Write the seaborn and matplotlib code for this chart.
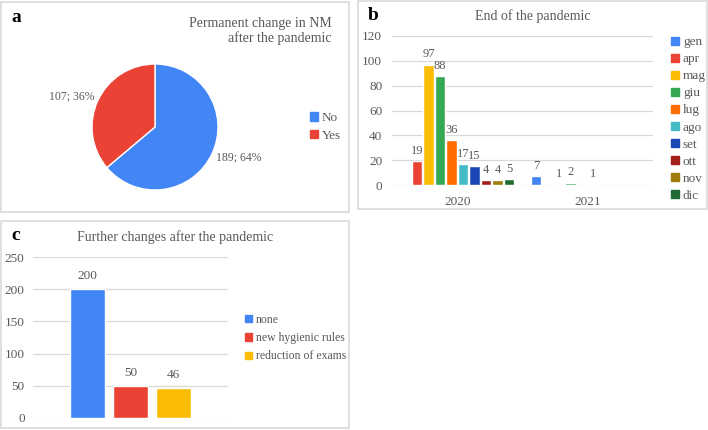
import matplotlib
matplotlib.use("Agg")
import matplotlib.pyplot as plt
import matplotlib.patches as mpatches
import numpy as np
import pandas as pd
import seaborn as sns

# panel a
pie_labels = ["No", "Yes"]
pie_values = [189, 107]
pie_colors = ["#4285F4", "#EA4335"]

# panel b
months = ["gen", "apr", "mag", "giu", "lug", "ago", "set", "ott", "nov", "dic"]
years = ["2020", "2021"]
counts_2020 = [0, 19, 97, 88, 36, 17, 15, 4, 4, 5]
counts_2021 = [7, 0, 1, 2, 0, 1, 0, 0, 0, 0]
month_colors = ["#4285F4", "#EA4335", "#FBBC04", "#34A853", "#FF6D01",
                "#46BDC6", "#1A47B5", "#A31F1A", "#A07C08", "#1E6B34"]

# panel c
change_labels = ["none", "new hygienic rules", "reduction of exams"]
change_values = [200, 50, 46]
change_colors = ["#4285F4", "#EA4335", "#FBBC04"]

TEXT = "#595959"
GRID = "#D9D9D9"
W, H = 708, 430
FS = 8.5

sns.set_theme(style="white")
plt.rcParams["font.family"] = ["Liberation Serif", "DejaVu Serif"]
plt.rcParams["text.color"] = TEXT


def frac(x, y, w, h):
    # pixel box (top-left origin) -> figure fraction
    return [x / W, 1 - (y + h) / H, w / W, h / H]


def panel_box(fig, x, y, w, h, letter):
    fig.patches.append(mpatches.Rectangle((x / W, 1 - (y + h) / H), w / W, h / H,
                                          transform=fig.transFigure, fill=False,
                                          edgecolor=GRID, linewidth=1.2))
    fig.text((x + 10) / W, 1 - (y + 15) / H, letter, fontsize=14, fontweight="bold",
             color="black", va="center", ha="left")


def style_bar_axes(ax, ymax, step, pad):
    ax.set_ylim(0, ymax)
    ax.set_yticks(np.arange(0, ymax + 1, step))
    ax.grid(axis="y", color=GRID, linewidth=0.9)
    ax.set_axisbelow(True)
    for s in ax.spines.values():
        s.set_visible(False)
    ax.tick_params(axis="both", length=0, labelsize=9.5, labelcolor=TEXT)
    ax.tick_params(axis="y", pad=pad)
    ax.set_xlabel("")
    ax.set_ylabel("")


def square_legend(ax, labels, colors, anchor, spacing, size=FS):
    handles = [mpatches.Patch(color=c, label=l) for l, c in zip(labels, colors)]
    ax.figure.legend(handles=handles, loc="center left", bbox_to_anchor=anchor,
                     frameon=False, handlelength=0.6, handleheight=0.6,
                     handletextpad=0.3, labelspacing=spacing, fontsize=size,
                     labelcolor=TEXT, borderpad=0, borderaxespad=0)


fig = plt.figure(figsize=(W / 100, H / 100), dpi=100)

panel_box(fig, 1, 2, 348, 210, "a")
panel_box(fig, 358, 1, 349, 208, "b")
panel_box(fig, 1, 221, 348, 207, "c")

# ---- a: pie
ax_a = fig.add_axes(frac(92, 64, 126, 126))
total = sum(pie_values)
texts = [f"{v}; {round(100 * v / total)}%" for v in pie_values]
wedges, labs = ax_a.pie(pie_values, colors=pie_colors, startangle=90, counterclock=False,
                        labels=texts, labeldistance=1.45,
                        textprops=dict(fontsize=FS, color=TEXT))
for t, w in zip(labs, wedges):
    mid = np.deg2rad((w.theta1 + w.theta2) / 2)
    t.set_position((1.46 * np.cos(mid), 1.15 * np.sin(mid)))
    t.set_ha("center")
ax_a.set_xlim(-1, 1)
ax_a.set_ylim(-1, 1)
ax_a.set_aspect("equal")
fig.text(332 / W, 1 - 31 / H, "Permanent change in NM\nafter the pandemic", ha="right",
         va="center", fontsize=10, color=TEXT, linespacing=1.1)
square_legend(ax_a, pie_labels, pie_colors, (310 / W, 1 - 127 / H), 0.42, 9.5)

# ---- b: grouped bars
df_b = pd.DataFrame({
    "year": np.repeat(years, len(months)),
    "month": months * len(years),
    "count": counts_2020 + counts_2021,
})
ax_b = fig.add_axes(frac(392, 36, 261, 149))
sns.barplot(data=df_b, x="year", y="count", hue="month", hue_order=months,
            palette=month_colors, width=0.88, gap=0.1, legend=False, ax=ax_b,
            saturation=1)
style_bar_axes(ax_b, 120, 20, 7)
ax_b.tick_params(axis="x", pad=8)
for cont in ax_b.containers:
    vals = [b.get_height() for b in cont]
    ax_b.bar_label(cont, labels=[f"{v:.0f}" if v > 0 else "" for v in vals],
                   padding=3, fontsize=9, color=TEXT)
fig.text(533 / W, 1 - 16 / H, "End of the pandemic", ha="center", va="center",
         fontsize=10, color=TEXT)
square_legend(ax_b, months, month_colors, (671 / W, 1 - 119 / H), 0.38, 9.5)

# ---- c: bars
df_c = pd.DataFrame({"group": [""] * len(change_labels), "change": change_labels,
                     "value": change_values})
ax_c = fig.add_axes(frac(33, 257, 195, 161))
sns.barplot(data=df_c, x="group", y="value", hue="change", hue_order=change_labels,
            palette=change_colors, width=0.66, gap=0.2, legend=False, ax=ax_c,
            saturation=1)
style_bar_axes(ax_c, 250, 50, 6)
ax_c.set_xticks([])
for cont in ax_c.containers:
    ax_c.bar_label(cont, padding=5, fontsize=9.5, color=TEXT)
fig.text(175 / W, 1 - 237 / H, "Further changes after the pandemic", ha="center",
         va="center", fontsize=10, color=TEXT)
square_legend(ax_c, change_labels, change_colors, (245 / W, 1 - 338 / H), 0.55)

fig.savefig("out.png", dpi=100)
